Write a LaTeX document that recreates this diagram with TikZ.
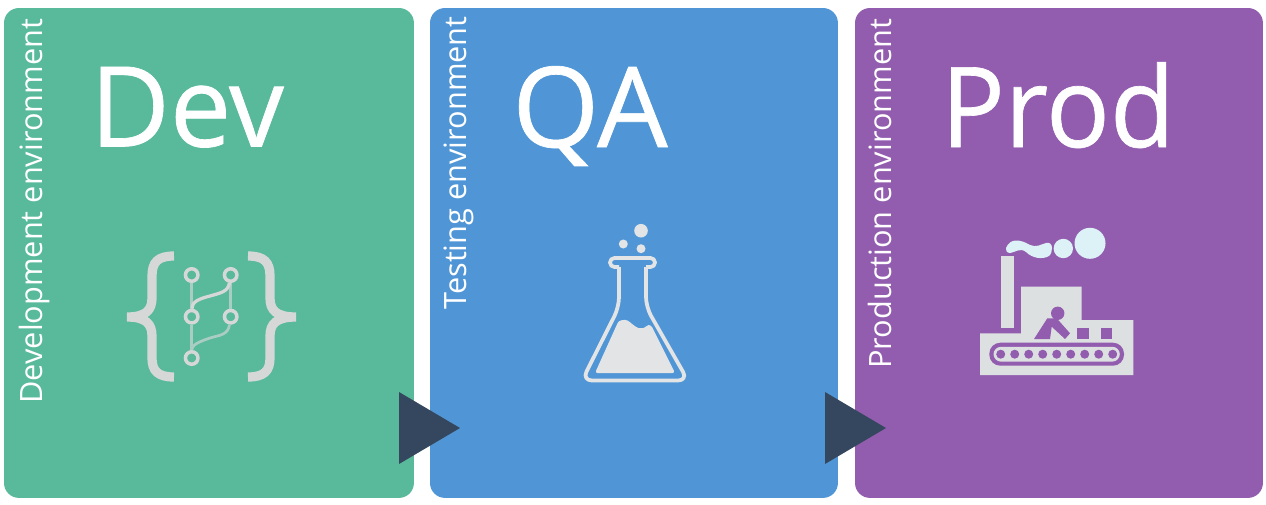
\documentclass[tikz,border=0pt]{standalone}
\usepackage{fontspec}
\usepackage{graphicx}
\setmainfont{Open Sans}
\newfontfamily\titlefont[FakeBold=0.6]{Open Sans}
\definecolor{devc}{HTML}{58B99B}
\definecolor{qac}{HTML}{5096D6}
\definecolor{prodc}{HTML}{925DAE}
\definecolor{arrowc}{HTML}{35475E}
\definecolor{iconc}{HTML}{D6D8D8}
\definecolor{flaskc}{HTML}{E2E4E6}
\definecolor{factc}{HTML}{DDE0E1}
\definecolor{smokec}{HTML}{DDF2F6}
\tikzset{
  x=0.02cm,y=-0.02cm,
  panel/.style={rounded corners=0.3cm,anchor=north west,inner sep=0,outer sep=0,fill=#1},
  title/.style={text=white,font=\titlefont\fontsize{63.5}{70}\selectfont,inner sep=0,anchor=base},
  side/.style={text=white,font=\fontsize{17.5}{20}\selectfont,rotate=90,anchor=base west,inner sep=0},
  chev/.style={fill=arrowc,draw=none},
  brace/.style={draw=iconc,line width=0.185cm,line cap=butt},
  gitnode/.style={circle,draw=iconc,line width=0.07cm,minimum size=0.25cm,inner sep=0},
  gitline/.style={draw=iconc!65!devc,line width=0.055cm},
  flask/.style={draw=flaskc,line width=0.075cm,line join=round},
}
\begin{document}
\begin{tikzpicture}
\useasboundingbox (0,0) rectangle (1266,504);
% panels
\node[panel=devc,minimum width=8.2cm,minimum height=9.8cm] (dev) at (4,8) {};
\node[panel=qac,minimum width=8.16cm,minimum height=9.8cm] (qa) at (430,8) {};
\node[panel=prodc,minimum width=8.16cm,minimum height=9.8cm] (prod) at (855,8) {};
% titles
\node[title] (devt) at (187,146.5) {\scalebox{0.98}[1]{Dev}};
\node[title] (qat) at (590,147) {QA};
\node[title] (prodt) at (1058,147) {\scalebox{0.95}[1]{Prod}};
% side labels
\node[side] (devs) at (42,404) {Development environment};
\node[side] (qas) at (466,310) {Testing environment};
\node[side] (prods) at (891,369) {Production environment};
% arrows
\fill[chev] (399,392) -- (460,428) -- (399,464) -- cycle;
\fill[chev] (825,392) -- (886,428) -- (825,464) -- cycle;
% Dev icon
\draw[brace] (174,256) .. controls (158,256) and (152,262) .. (152,276) -- (152,298)
  .. controls (152,310) and (146,317) .. (127,317)
  .. controls (146,317) and (152,324) .. (152,336) -- (152,358)
  .. controls (152,371) and (158,377) .. (174,377);
\draw[brace] (248,256) .. controls (264,256) and (270,262) .. (270,276) -- (270,298)
  .. controls (270,310) and (276,317) .. (296,317)
  .. controls (276,317) and (270,324) .. (270,336) -- (270,358)
  .. controls (270,371) and (264,377) .. (248,377);
\node[gitnode] (g1) at (191.7,275) {};
\node[gitnode] (g2) at (230.7,275) {};
\node[gitnode] (g3) at (191.7,316.7) {};
\node[gitnode] (g4) at (230.7,316.7) {};
\node[gitnode] (g5) at (191.7,358) {};
\draw[gitline] (g1) -- (g3);
\draw[gitline] (g3) -- (g5);
\draw[gitline] (g2) -- (g4);
\draw[draw=iconc,line width=0.065cm] (g2) .. controls (228,292) and (220,293) .. (210,296) .. controls (198,299) and (192,302) .. (g3);
\draw[gitline] (g4) .. controls (228,335) and (220,335) .. (210,338) .. controls (198,342) and (192,345) .. (191.7,350);
% flask
\fill[flaskc] (641,230.7) circle (6.8);
\fill[flaskc] (623.3,244) circle (4.5);
\fill[flaskc] (641,248.7) circle (4.5);
\draw[flask,rounded corners=0.09cm] (619,267) -- (610,267) -- (610,258) -- (655,258) -- (655,267) -- (646,267);
\draw[flask,rounded corners=0.2cm] (619,267) -- (619,307) -- (582,380.5) -- (688,380.5) -- (646,307) -- (646,267);
\fill[flaskc,rounded corners=0.05cm] (595,373) -- (616.7,325) .. controls (619,320) and (625,319) .. (630,322)
  .. controls (634,326) and (638,328) .. (641,328) .. controls (645,328) and (647,325) .. (651,325)
  -- (675,373) -- cycle;
% factory
\fill[factc] (1000.7,255.7) rectangle (1014,328);
\fill[factc] (980,333.3) -- (1021,333.3) -- (1021,286.7) -- (1081.7,286.7) -- (1081.7,320) -- (1133.3,320) -- (1133.3,375) -- (980,375) -- cycle;
\fill[prodc] (1057.7,313.3) circle (6.7);
\fill[prodc] (1034,339) -- (1047.3,318.3) -- (1056.7,318.3) -- (1070,333.3) -- (1065,339) -- (1051.7,326.7) -- (1050,339) -- cycle;
\fill[prodc] (1077.3,328.3) rectangle (1089,339);
\fill[prodc] (1100.7,328.3) rectangle (1112.3,339);
\fill[prodc,rounded corners=0.22cm] (989.3,342.7) rectangle (1124,365.7);
\fill[factc,rounded corners=0.15cm] (993.5,346.8) rectangle (1119.8,361.6);
\foreach \i in {0,...,8} \fill[prodc] ({1000.7+14.0*\i},354.2) circle (4.5);
\fill[smokec] (1090,243.3) circle (15.5);
\fill[smokec] (1063.3,248.5) circle (9.7);
\fill[smokec] (1006,248) .. controls (1010,238) and (1020,239) .. (1030,245) .. controls (1036,248) and (1042,244) .. (1046,243) .. controls (1054,241) and (1053,253) .. (1049,256) .. controls (1042,260) and (1032,258) .. (1026,252) .. controls (1020,247) and (1014,253) .. (1010,253) .. controls (1007,253) and (1005,250) .. (1006,248) -- cycle;
\end{tikzpicture}
\end{document}
